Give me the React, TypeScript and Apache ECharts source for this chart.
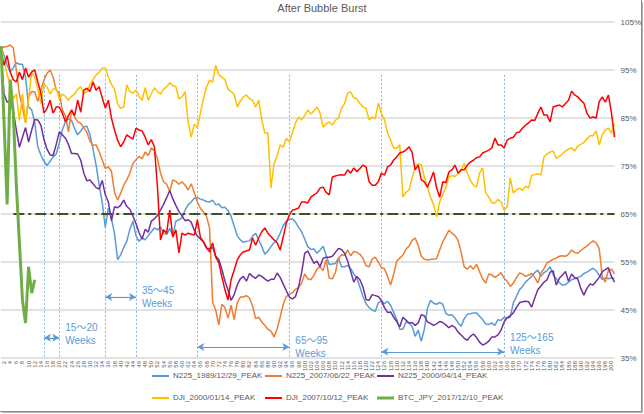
import React, { useEffect, useRef } from "react";
import * as echarts from "echarts";

const weeks: string[] = Array.from({ length: 201 }, (_, i) => String(i + 1));

const n225_1989: number[] = [
  99.8, 98, 96, 94.6, 95.5, 96.5, 96.2, 96.2, 93.5, 87.3,
  86.7, 84, 79, 77.3, 76, 75.1, 76, 76.9, 77.5, 79.8,
  82.5, 84.2, 84.8, 84.5, 82.8, 81.5, 82.3, 83.2, 83.3, 81.5,
  78.5, 75.2, 71, 67.4, 62.2, 66.25, 64, 61, 55.5, 56.5,
  58, 59.3, 61.8, 63.5, 60.5, 59.3, 60, 59.6, 60.5, 61.3,
  62.1, 61.7, 62.3, 61, 60.7, 62, 60.5, 63.5, 63.8, 64.2,
  65.8, 66.9, 67.5, 68.3, 68.4, 68.1, 67.9, 67.6, 67.5, 67.9,
  66.9, 67.1, 66.3, 66.4, 65.7, 64.5, 62.5, 60.5, 59.6, 59.1,
  59.3, 59.4, 60.4, 61, 59.6, 58.2, 56.6, 57.3, 58.2, 59,
  59.6, 61, 62.6, 63.5, 63.9, 64, 63.3, 62.2, 61.3, 59.8,
  58.2, 57.6, 57.7, 56.8, 57.5, 58.3, 56.4, 54.5, 54.6, 54.7,
  55.8, 54, 54, 54.3, 53.6, 52.5, 51.7, 49.8, 47.8, 46.3,
  45.5, 45, 44.7, 46.5, 46.9, 46.3, 46.8, 46, 44.5, 43,
  41, 41, 42.5, 42.3, 41.6, 39.5, 40.8, 38.5, 41, 45.3,
  47, 46.4, 46.2, 46.6, 46.2, 44.3, 43.9, 44, 43.3, 42.3,
  41.6, 43.2, 44.1, 44.2, 44.4, 44.4, 43.7, 43, 42.1, 42,
  42.3, 41.8, 43, 42.8, 43.5, 43.3, 43.5, 46.5, 47.8, 49.2,
  49.9, 50.8, 51.4, 52, 52.8, 53.3, 52, 52.8, 53.2, 54,
  52.3, 51.5, 50.7, 50.2, 50.3, 50.8, 51.3, 51.5, 51.8, 52,
  52.6, 52.9, 53.3, 53.7, 53.2, 52.2, 51.4, 51.7, 51.5, 51.7,
  51.5,
];

const n225_2007: number[] = [
  99.6, 99.8, 99.9, 100.2, 99.6, 95, 90, 87.3, 84, 89.4,
  90.5, 90.4, 88.5, 90.8, 92.9, 94.3, 95, 93.5, 90.8, 90.2,
  86.7, 85.5, 82.1, 86.5, 85.2, 84.2, 83.9, 83, 82, 80.2,
  79.3, 79.4, 78, 76.25, 74.5, 74.8, 73.9, 69.5, 67.9, 69.3,
  71, 72.1, 73.5, 75.5, 76.3, 77, 76.5, 77.9, 77.2, 78.8,
  78.2, 76.5, 73.5, 71.7, 71.2, 69.7, 72.1, 71.8, 71.2, 71.7,
  71, 70, 71.3, 69.5, 67.5, 66.2, 65.4, 64.5, 62, 46.5,
  45, 41.9, 46.2, 45.5, 43.3, 46, 43, 46.5, 47.7, 47.7,
  48, 47.5, 45.8, 43.2, 43.5, 42.5, 41.8, 41, 40.6, 39.4,
  41, 43.5, 46.2, 47.8, 48.3, 48.6, 49.3, 49.7, 50.6, 52.5,
  51.5, 51.3, 52.2, 53.5, 54, 53.2, 55.5, 51.6, 51.5, 52.8,
  55.8, 56.5, 56.4, 57.5, 56.3, 57.2, 57, 56.6, 55.8, 54.2,
  54, 55.6, 56, 55, 53.8, 53.6, 52, 50.2, 52.5, 55.2,
  55.8, 56.4, 57.7, 58.3, 59.5, 60, 58.5, 56.2, 55.6, 55.4,
  55.5, 55.6, 55.7, 57.5, 59.2, 60.4, 61.6, 61, 60.5, 59.5,
  57, 54, 53.5, 54.2, 53.5, 54.5, 53, 51.5, 50.6, 52.5,
  52.3, 51.8, 52.2, 52.8, 51.6, 51, 49.9, 50.6, 51.7, 52.7,
  52.5, 52, 52.3, 52.6, 51.8, 50.6, 52.7, 53.6, 54.8, 55.2,
  55.6, 55.8, 56.2, 56.3, 56.2, 56.6, 57.5, 57, 56.8, 57.4,
  57.9, 58.3, 58.9, 59.4, 59, 57.8, 52, 50.8, 53.3, 53.5,
  52.5,
];

const n225_2000: number[] = [
  98.5, 90, 88.3, 88.7, 86.5, 82.5, 78.9, 81, 83, 80,
  82.5, 84.7, 84.6, 83.5, 80.5, 78.5, 77.3, 77.2, 79.5, 82.1,
  81.5, 80.8, 79.5, 77.6, 77.6, 77.5, 76.2, 73.5, 71.9, 72.1,
  71.3, 70.5, 70.2, 72, 69, 67.5, 63.6, 66.5, 66.3, 66.8,
  67.9, 66.6, 66, 64.6, 63, 61.1, 59.8, 61.8, 61.2, 63.5,
  64, 64.7, 65.8, 67, 68.4, 69.9, 68.2, 66.8, 65.5, 64.6,
  63.6, 63.8, 63.3, 61.6, 60.4, 59.8, 59.2, 57.8, 57.8, 58,
  56.2, 55.5, 53.5, 51, 49.2, 47, 48.2, 50.2, 51.5, 52,
  51, 52.6, 52, 51.6, 52.3, 52, 51.5, 51, 51.4, 51.4,
  52.7, 51.8, 50.4, 49, 47.7, 47.3, 47.8, 49.8, 52.8, 56.8,
  57.3, 56, 54.7, 55.2, 54, 55.8, 56, 56, 56.2, 57,
  57.8, 57.6, 56.8, 55.2, 53, 50.8, 52, 51.3, 49.8, 47.2,
  47, 48.2, 48, 47.8, 47, 45.5, 44.5, 44.6, 43.5, 42.6,
  41.5, 43.5, 42.9, 42.3, 42.4, 41.8, 42.3, 44, 43.8, 42.5,
  42.2, 41.8, 42.1, 42.6, 42.4, 41.9, 41.3, 41.8, 41.4, 40.4,
  39.8, 39.1, 38.7, 39.5, 40, 39.3, 38.3, 37.7, 38, 38.5,
  39.4, 39.4, 39.8, 40.8, 42.5, 43.4, 43.8, 44.4, 45.5, 46.5,
  46.7, 46.8, 46.7, 45.6, 47.5, 49.2, 50, 50.8, 51.3, 52.9,
  53.2, 50.2, 51.6, 52.3, 53, 51, 52.5, 51.7, 51.5, 49.5,
  48.1, 49.5, 50.4, 50.2, 51, 51.8, 53, 53.4, 53.8, 52,
  50.8,
];

const dji_2000: number[] = [
  100, 97, 94, 92, 89, 90, 84.5, 90, 84, 89,
  94.5, 93.5, 91, 88, 92, 91.5, 90, 91, 91.3, 89,
  90, 89.5, 88.7, 89.5, 90, 91, 91.5, 90, 90.5, 92,
  93, 94, 94.5, 95.4, 95.4, 93.5, 92, 91, 88, 87,
  87.3, 91.9, 90.5, 90.2, 90.8, 89.5, 88.7, 91.3, 88.7, 90,
  91.3, 90.5, 90, 91, 91.5, 92.3, 91.8, 91.5, 89, 89.4,
  90.5, 84.2, 81, 83.7, 83, 86, 89, 91.5, 92.9, 92.5,
  96, 94, 93.5, 93, 91, 90.5, 90, 87.3, 88.5, 89.4,
  89.8, 89, 88.7, 87.3, 88.7, 84.6, 81.9, 81.9, 70.4, 75.5,
  77, 79.4, 78.9, 80.8, 80, 82, 84, 85.2, 84.6, 85.5,
  86.7, 85.8, 86.5, 87.3, 86, 83.1, 83.8, 84.2, 83.5, 84.5,
  85, 87, 88, 90.2, 90.4, 89.2, 89, 88, 87.3, 87,
  84.6, 85.2, 84.8, 88.1, 86, 84.6, 81.9, 80.4, 78.7, 78.7,
  79.4, 68.5, 69.5, 70, 72.5, 74.8, 75.5, 75.2, 72.7, 70.6,
  68.5, 67, 64.4, 67.5, 69, 70.6, 72.7, 73, 72.8, 73.5,
  74, 75.6, 73.5, 72, 71, 70.6, 73.5, 74.6, 69.4, 68.5,
  67.3, 67.3, 68, 67.5, 65.8, 66.5, 72.5, 69.4, 70, 70.4,
  69.9, 70.8, 70.4, 73.1, 73.2, 73.4, 73.1, 76.9, 77.5, 77.9,
  78.1, 76.6, 77, 77.5, 78.1, 78.5, 78.8, 78.1, 79.2, 79.5,
  79.9, 80.6, 81.3, 81.3, 82.3, 79.4, 81.5, 82.5, 82.9, 81.8,
  83.8,
];

const dji_2007: number[] = [
  98.5, 96, 98, 94.6, 93, 92.5, 94.6, 93, 95.4, 93.5,
  94.6, 95, 92.5, 90.2, 86, 87, 88.7, 86, 87.3, 87.3,
  86, 84.2, 85.5, 86.7, 85.5, 88.7, 86.2, 90.8, 91.2, 90.5,
  92.5, 90.8, 91.5, 89.2, 87.1, 88.7, 85, 82.5, 80.4, 79,
  80, 81.5, 81, 80.6, 82.9, 82.5, 82.3, 81, 79.4, 80.5,
  79, 70.6, 59.6, 61.7, 61, 65.8, 60.2, 61.7, 56.9, 61,
  60.6, 61, 60.8, 60.6, 63.75, 60.2, 59.2, 58, 57.1, 59,
  56, 54.8, 51.9, 49.2, 47.1, 51.3, 53.3, 55.4, 56.5, 57.1,
  57.3, 57.5, 60, 58.5, 60, 61.3, 62.1, 61, 60.3, 59.6,
  59, 57.5, 60.2, 63.1, 64.8, 65.8, 66, 66.25, 67.5, 67.5,
  67.3, 68.5, 69, 69.4, 70.4, 70.6, 69.5, 69, 72.7, 72.9,
  73.1, 73.2, 73.1, 74.2, 73.5, 74.6, 73.8, 74.5, 75.2, 74.8,
  71.7, 71, 71, 71.7, 73.5, 73.1, 74.8, 75.2, 76.25, 76.9,
  77.7, 77.9, 78.3, 79, 77.9, 74.2, 75.2, 72.1, 71.7, 70.6,
  72.1, 73.75, 70.4, 68.5, 71.7, 71.5, 73.75, 74.2, 75.2, 73.5,
  74.2, 74.2, 75.2, 75.8, 76.2, 76.7, 76.9, 77.7, 78, 78.3,
  78.75, 80.8, 79.4, 79.4, 78.75, 80.4, 80.8, 81, 81.9, 82.1,
  82.9, 83.5, 84, 84.6, 84.5, 86, 87.3, 85.6, 85.6, 84.2,
  87.3, 87.5, 87.7, 87.3, 88, 88.7, 90.6, 89.8, 89.4, 88.7,
  88.1, 86, 85, 85.2, 85, 88.4, 89.4, 88.3, 89.8, 86,
  81,
];

const btc_2017: number[] = [100, 84, 67, 93, 86, 71, 59, 47, 42.3, 54, 48.5, 51.3];

const seriesNames: string[] = [
  "N225_1989/12/29_PEAK",
  "N225_2007/06/22_PEAK",
  "N225_2000/04/14_PEAK",
  "DJI_2000/01/14_PEAK",
  "DJI_2007/10/12_PEAK",
  "BTC_JPY_2017/12/10_PEAK",
];
const seriesColors: string[] = ["#5b9bd5", "#ed7d31", "#7030a0", "#ffc000", "#ff0000", "#70ad47"];
const seriesData: number[][] = [n225_1989, n225_2007, n225_2000, dji_2000, dji_2007, btc_2017];

const markerWeeks: number[] = [15, 20, 35, 45, 65, 95, 125, 165];
const thresholdLevel = 65;
const arrowRanges: { from: number; to: number; text: string }[] = [
  { from: 15, to: 20, text: "15～20\nWeeks" },
  { from: 35, to: 45, text: "35～45\nWeeks" },
  { from: 65, to: 95, text: "65～95\nWeeks" },
  { from: 125, to: 165, text: "125～165\nWeeks" },
];
const arrowLevels: number[] = [39.2, 47.7, 37.3, 36.3];
const arrowLabelShift: number[] = [-4, 0, 0, -8];

const FONT = "'Liberation Sans', 'Noto Sans CJK JP', sans-serif";

export default function App() {
  const ref = useRef<HTMLDivElement>(null);

  useEffect(() => {
    if (!ref.current) return;
    const chart = echarts.init(ref.current, undefined, { renderer: "svg" });

    const legendLefts = [147, 260, 372];
    const legendTops = [367, 389];
    const legends = seriesNames.map((name, i) => ({
      data: [name],
      left: legendLefts[i % 3],
      top: legendTops[Math.floor(i / 3)],
      icon: "rect",
      itemWidth: 17,
      itemHeight: i === 5 ? 3 : 2,
      itemGap: 4,
      selectedMode: false,
      textStyle: { fontSize: 8, color: "#595959", fontFamily: FONT, padding: [0, 0, 0, -1] },
    }));

    const lineSeries = seriesNames.map((name, i) => ({
      name,
      type: "line",
      data: seriesData[i],
      showSymbol: false,
      symbol: "none",
      smooth: false,
      z: 3 + i,
      lineStyle: { color: seriesColors[i], width: i === 5 ? 3 : 1.5 },
      itemStyle: { color: seriesColors[i] },
    }));

    const markerSeries: any[] = [
      {
        name: "vlines",
        type: "line",
        data: [],
        z: 2,
        markLine: {
          silent: true,
          symbol: ["none", "none"],
          label: { show: false },
          lineStyle: { color: "#5b9bd5", width: 1, type: [2, 2], opacity: 0.75 },
          data: markerWeeks.map((w) => [{ coord: [w - 1, 94] }, { coord: [w - 1, 35] }]),
        },
      },
      {
        name: "threshold",
        type: "line",
        data: [],
        z: 10,
        markLine: {
          silent: true,
          symbol: ["none", "none"],
          label: { show: false },
          lineStyle: { color: "#3b5323", width: 2, type: [11, 4, 3, 4] },
          data: [[{ coord: [4, thresholdLevel] }, { coord: [200, thresholdLevel] }]],
        },
      },
      ...arrowRanges.map((a, i) => ({
        name: "arrow" + i,
        type: "line",
        data: [],
        z: 10,
        markLine: {
          silent: true,
          symbol: ["arrow", "arrow"],
          symbolSize: [6, 7],
          lineStyle: { color: "#5b9bd5", width: 1.2, type: "solid" },
          label: {
            show: true,
            position: "end",
            distance: 6,
            formatter: a.text,
            color: "#5b9bd5",
            fontSize: 10,
            lineHeight: 13,
            fontFamily: FONT,
            offset: [0, arrowLabelShift[i]],
          },
          data: [[{ coord: [a.from - 1, arrowLevels[i]] }, { coord: [a.to - 1, arrowLevels[i]] }]],
        },
      })),
    ];

    chart.setOption({
      animation: false,
      backgroundColor: "#ffffff",
      title: {
        text: "After Bubble Burst",
        left: "center",
        top: -3,
        textStyle: { fontSize: 11, fontWeight: "normal", color: "#595959", fontFamily: FONT },
      },
      grid: { left: 1, right: 29, top: 22, bottom: 56 },
      xAxis: {
        type: "category",
        data: weeks,
        boundaryGap: false,
        axisLine: { show: false },
        axisTick: { show: false },
        splitLine: { show: false },
        axisLabel: {
          rotate: 90,
          fontSize: 6,
          color: "#595959",
          fontFamily: FONT,
          margin: 3,
          interval: (index: number) => index % 2 === 1,
        },
      },
      yAxis: {
        type: "value",
        position: "right",
        min: 35,
        max: 105,
        interval: 10,
        axisLine: { show: false },
        axisTick: { show: false },
        axisLabel: { formatter: "{value}%", fontSize: 8, color: "#595959", fontFamily: FONT, margin: 6 },
        splitLine: { lineStyle: { color: "#d9d9d9", width: 1.5 } },
      },
      legend: legends,
      series: [...markerSeries, ...lineSeries],
      graphic: [
        { type: "line", shape: { x1: 641.5, y1: 0, x2: 641.5, y2: 411.5 }, style: { stroke: "#8c8c8c", lineWidth: 1 } },
        { type: "line", shape: { x1: 642.5, y1: 2, x2: 642.5, y2: 412.5 }, style: { stroke: "#b5b5b5", lineWidth: 1 } },
        { type: "line", shape: { x1: 0, y1: 411.5, x2: 641.5, y2: 411.5 }, style: { stroke: "#8c8c8c", lineWidth: 1 } },
        { type: "line", shape: { x1: 2, y1: 412.5, x2: 642.5, y2: 412.5 }, style: { stroke: "#b5b5b5", lineWidth: 1 } },
      ],
    });

    return () => chart.dispose();
  }, []);

  return (
    <div
      ref={ref}
      style={{ position: "absolute", left: 0, top: 0, width: 644, height: 414, background: "#fff" }}
    />
  );
}
